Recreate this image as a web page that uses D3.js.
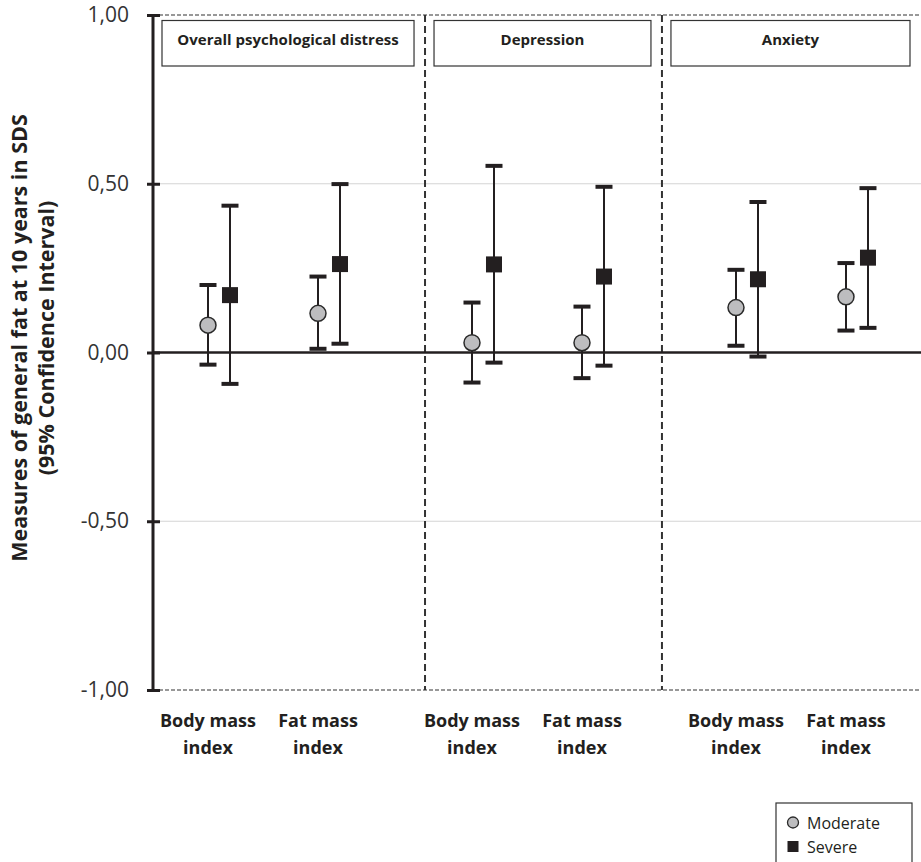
<!DOCTYPE html>
<html>
<head>
<meta charset="utf-8">
<script src="https://cdn.jsdelivr.net/npm/d3@7"></script>
<style>
  html, body { margin: 0; padding: 0; background: #fff; }
  svg { display: block; font-family: "Open Sans", "Liberation Sans", sans-serif; }
</style>
</head>
<body>
<svg id="chart" width="921" height="862"></svg>
<script>
// Outcome panels and the two fat measures shown in each
const outcomes = ["Overall psychological distress", "Depression", "Anxiety"];
const measureLines = [["Body mass", "index"], ["Fat mass", "index"]];

// Estimates (SDS) with 95% CI, ordered panel by panel: BMI, FMI
const moderateEst = [0.081, 0.116, 0.029, 0.029, 0.133, 0.165];
const moderateLo  = [-0.036, 0.011, -0.089, -0.076, 0.020, 0.065];
const moderateHi  = [0.200, 0.225, 0.148, 0.136, 0.245, 0.265];

const severeEst = [0.170, 0.262, 0.261, 0.225, 0.217, 0.281];
const severeLo  = [-0.093, 0.026, -0.030, -0.039, -0.012, 0.073];
const severeHi  = [0.435, 0.499, 0.553, 0.491, 0.446, 0.487];

const yTicks = [-1, -0.5, 0, 0.5, 1];
const seriesNames = ["Moderate", "Severe"];

// ---- layout ----
const plotLeft = 153, plotRight = 921, plotTop = 15, plotBottom = 690;
const panelSpan = 2.4;          // slot units per outcome panel
const severeOffset = 0.2;       // severe marker shifted right of its category
const dividerSlots = [1.973, 4.127];

const svg = d3.select("#chart");
const ink = "#231f20";

const y = d3.scaleLinear().domain([-1, 1]).range([plotBottom, plotTop]);
const x = d3.scaleLinear().domain([-0.5, 6.482]).range([plotLeft, plotRight]);

const slotOf = i => Math.floor(i / 2) * panelSpan + (i % 2);

const locale = d3.formatLocale({decimal: ",", thousands: ".", grouping: [3], currency: ["", ""], minus: "-"});
const fmt = locale.format(".2f");

// light gridlines at ±0.5
svg.append("g").selectAll("line")
  .data(yTicks.filter(v => Math.abs(v) === 0.5))
  .join("line")
  .attr("x1", plotLeft).attr("x2", plotRight)
  .attr("y1", d => y(d)).attr("y2", d => y(d))
  .attr("stroke", "#d4d4d4").attr("stroke-width", 1.2);

// dashed frame top and bottom
svg.append("g").selectAll("line")
  .data([1, -1])
  .join("line")
  .attr("x1", plotLeft).attr("x2", plotRight)
  .attr("y1", d => y(d)).attr("y2", d => y(d))
  .attr("stroke", "#333").attr("stroke-width", 1.2)
  .attr("stroke-dasharray", "4,2");

// dashed panel dividers
svg.append("g").selectAll("line")
  .data(dividerSlots)
  .join("line")
  .attr("x1", d => x(d)).attr("x2", d => x(d))
  .attr("y1", y(1)).attr("y2", y(-1))
  .attr("stroke", "#333").attr("stroke-width", 2)
  .attr("stroke-dasharray", "7,4");

// zero reference line
svg.append("line")
  .attr("x1", plotLeft).attr("x2", plotRight)
  .attr("y1", y(0)).attr("y2", y(0))
  .attr("stroke", ink).attr("stroke-width", 2.5);

// y axis
const yAxis = svg.append("g")
  .attr("transform", `translate(${plotLeft},0)`)
  .call(d3.axisLeft(y).tickValues(yTicks).tickFormat(fmt).tickSize(6).tickPadding(18));
yAxis.select(".domain").attr("stroke", ink).attr("stroke-width", 3).attr("d", `M0,${plotTop}V${plotBottom}`);
yAxis.selectAll(".tick line").attr("x1", -6).attr("x2", 7).attr("stroke", ink).attr("stroke-width", 3);
yAxis.selectAll(".tick text")
  .attr("font-family", "'Open Sans', sans-serif")
  .attr("font-size", 21).attr("fill", "#333");

// y axis title
const yTitle = svg.append("text")
  .attr("transform", `translate(27,338) rotate(-90)`)
  .attr("text-anchor", "middle")
  .attr("font-weight", "bold").attr("font-size", 21.5).attr("fill", ink);
yTitle.append("tspan").attr("x", 0).attr("dy", 0).text("Measures of general fat at 10 years in SDS");
yTitle.append("tspan").attr("x", 0).attr("dy", 27).text("(95% Confidence Interval)");

// panel title boxes
const edges = [plotLeft, x(dividerSlots[0]), x(dividerSlots[1]), plotRight];
const boxes = svg.append("g").selectAll("g")
  .data(outcomes)
  .join("g");
boxes.append("rect")
  .attr("x", (d, i) => edges[i] + 9)
  .attr("y", 20.5)
  .attr("width", (d, i) => edges[i + 1] - edges[i] - 20)
  .attr("height", 45.5)
  .attr("fill", "#fff").attr("stroke", "#333").attr("stroke-width", 1.2);
boxes.append("text")
  .attr("x", (d, i) => (edges[i] + 9 + edges[i + 1] - 11) / 2)
  .attr("y", 40)
  .attr("dy", "0.35em")
  .attr("text-anchor", "middle")
  .attr("font-weight", "bold").attr("font-size", 15).attr("fill", ink)
  .text(d => d);

// category labels under each measure
const catLabels = svg.append("g").selectAll("text")
  .data(d3.range(moderateEst.length))
  .join("text")
  .attr("x", i => x(slotOf(i)))
  .attr("y", 727)
  .attr("text-anchor", "middle")
  .attr("font-weight", "bold").attr("font-size", 18).attr("fill", ink);
catLabels.each(function(i) {
  const lines = measureLines[i % 2];
  d3.select(this).selectAll("tspan").data(lines).join("tspan")
    .attr("x", x(slotOf(i)))
    .attr("dy", (d, k) => k === 0 ? 0 : 27)
    .text(d => d);
});

// error bars and markers
function drawSeries(est, lo, hi, offset, shape) {
  const g = svg.append("g");
  const idx = d3.range(est.length);
  const cx = i => x(slotOf(i) + offset);
  g.selectAll("line.stem").data(idx).join("line")
    .attr("class", "stem")
    .attr("x1", cx).attr("x2", cx)
    .attr("y1", i => y(lo[i])).attr("y2", i => y(hi[i]))
    .attr("stroke", ink).attr("stroke-width", 2);
  g.selectAll("line.cap").data(idx.flatMap(i => [[i, lo[i]], [i, hi[i]]])).join("line")
    .attr("class", "cap")
    .attr("x1", d => cx(d[0]) - 8.5).attr("x2", d => cx(d[0]) + 8.5)
    .attr("y1", d => y(d[1])).attr("y2", d => y(d[1]))
    .attr("stroke", ink).attr("stroke-width", 4);
  if (shape === "circle") {
    g.selectAll("circle").data(idx).join("circle")
      .attr("cx", cx).attr("cy", i => y(est[i])).attr("r", 8)
      .attr("fill", "#bdbdbf").attr("stroke", "#2a2a2a").attr("stroke-width", 1.5);
  } else {
    g.selectAll("rect").data(idx).join("rect")
      .attr("x", i => cx(i) - 8).attr("y", i => y(est[i]) - 8)
      .attr("width", 16).attr("height", 16)
      .attr("fill", ink);
  }
}
drawSeries(moderateEst, moderateLo, moderateHi, 0, "circle");
drawSeries(severeEst, severeLo, severeHi, severeOffset, "square");

// legend
const lg = svg.append("g");
lg.append("rect")
  .attr("x", 776).attr("y", 803).attr("width", 136).attr("height", 70)
  .attr("fill", "#fff").attr("stroke", "#333").attr("stroke-width", 1.2);
lg.append("circle").attr("cx", 793).attr("cy", 822.5).attr("r", 5.5)
  .attr("fill", "#bdbdbf").attr("stroke", "#2a2a2a").attr("stroke-width", 1.3);
lg.append("rect").attr("x", 787.5).attr("y", 841).attr("width", 11).attr("height", 11).attr("fill", ink);
lg.selectAll("text").data(seriesNames).join("text")
  .attr("x", 807).attr("y", (d, i) => 823 + i * 24)
  .attr("dy", "0.35em")
  .attr("font-size", 16).attr("fill", ink)
  .text(d => d);
</script>
</body>
</html>
